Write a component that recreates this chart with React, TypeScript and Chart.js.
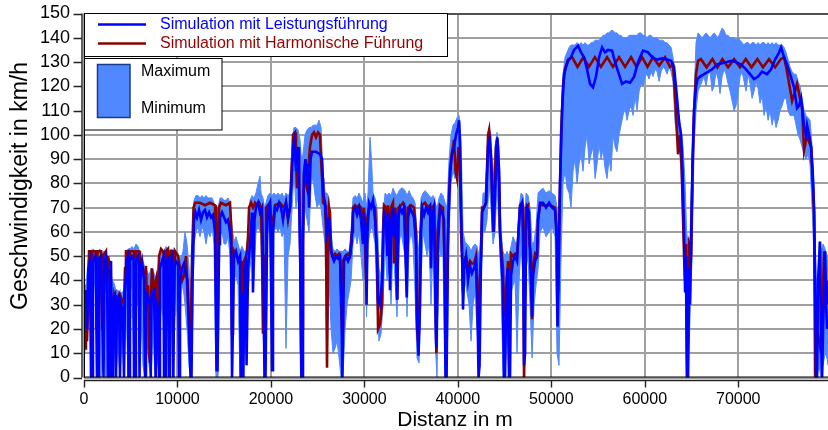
import React, { useEffect, useRef } from "react";
import { Chart, registerables } from "chart.js";

Chart.register(...registerables);

// distance in m, speed in km/h
const leistung: [number, number][] = [
  [0,28],[160,36],[320,20],[480,45],[640,48],[750,0],[860,0],[960,48],[1180,50],[1280,47],[1390,0],[1500,0],
  [1600,49],[1820,50],[1930,30],[2090,0],[2190,48],[2350,50],[2460,46],[2570,0],[2680,0],[2780,45],[2890,48],
  [3000,0],[3100,32],[3320,34],[3420,0],[3530,30],[3750,33],[3850,0],[3960,30],[4170,28],[4280,0],[4390,35],
  [4550,48],[4710,50],[4760,0],[4870,0],[4920,48],[5140,50],[5300,49],[5350,0],[5460,0],[5560,48],[5780,50],
  [5890,46],[5940,0],[6050,45],[6210,48],[6420,40],[6530,0],[6630,35],[6850,33],[7060,30],[7140,0],[7240,35],
  [7490,36],[7670,0],[7780,30],[7920,28],[8030,0],[8130,45],[8350,48],[8510,50],[8560,0],[8670,0],[8770,48],
  [8990,49],[9100,0],[9200,47],[9420,50],[9560,0],[9660,45],[9840,48],[10060,47],[10170,0],[10270,40],
  [10490,45],[10700,47],[10910,43],[11070,40],[11240,20],[11400,0],[11500,0],[11610,40],[11770,65],[11930,68],
  [12090,66],[12310,69],[12520,65],[12730,68],[12950,69],[13160,66],[13380,68],[13590,66],[13800,67],[14020,60],
  [14180,3],[14280,3],[14450,55],[14550,66],[14770,68],[14980,66],[15190,64],[15410,65],[15620,60],[15730,55],
  [15840,0],[15940,0],[16050,50],[16260,52],[16480,48],[16690,50],[16770,0],[16850,35],[17050,0],[17170,45],
  [17330,48],[17390,5],[17550,45],[17760,55],[17980,68],[18080,35],[18240,65],[18400,70],[18620,72],[18830,68],
  [19050,70],[19210,40],[19310,0],[19420,0],[19580,60],[19690,70],[19900,72],[20010,40],[20120,3],[20220,60],
  [20440,70],[20650,69],[20870,72],[21080,70],[21290,65],[21400,68],[21610,72],[21830,66],[22040,70],[22200,80],
  [22360,95],[22520,98],[22680,85],[22790,92],[22900,95],[23000,80],[23170,40],[23250,0],[23330,0],[23430,60],
  [23540,85],[23700,90],[23860,80],[23970,88],[24080,70],[24240,90],[24400,93],[24820,93],[25250,92],[25470,90],
  [25630,75],[25790,72],[26000,60],[26220,66],[26380,55],[26540,50],[26750,48],[26960,50],[27180,49],[27390,50],
  [27550,30],[27640,0],[27710,0],[27820,48],[28030,50],[28250,48],[28460,50],[28620,55],[28780,68],[29000,70],
  [29210,67],[29430,70],[29640,65],[29850,55],[29960,68],[30120,60],[30230,30],[30330,60],[30500,72],[30710,70],
  [30920,73],[31140,65],[31350,50],[31460,32],[31670,30],[31890,40],[32100,68],[32310,66],[32450,50],[32580,68],
  [32740,36],[32900,65],[33060,70],[33170,58],[33330,68],[33520,32],[33650,66],[33810,70],[34030,68],[34240,70],
  [34530,33],[34670,66],[34880,70],[35100,68],[35310,66],[35520,55],[35630,25],[35790,9],[35950,30],[36060,60],
  [36170,70],[36380,67],[36590,70],[36810,68],[37020,70],[37130,45],[37240,66],[37450,70],[37610,30],[37700,12],
  [37770,30],[37880,55],[38090,70],[38310,68],[38520,65],[38680,0],[38790,0],[38950,60],[39160,85],[39380,92],
  [39590,95],[39800,100],[40020,103],[40130,106],[40230,95],[40340,70],[40450,52],[40550,28],[40660,45],
  [40870,50],[41090,40],[41300,46],[41510,43],[41730,45],[41940,48],[42100,30],[42210,0],[42320,5],[42480,50],
  [42590,68],[42800,70],[43010,72],[43230,95],[43390,98],[43550,90],[43820,60],[44080,85],[44220,99],[44410,85],
  [44510,60],[44620,50],[44780,40],[44940,0],[45050,0],[45150,30],[45310,45],[45470,0],[45580,0],[45690,42],
  [45900,48],[46120,50],[46330,48],[46490,60],[46650,70],[46870,72],[46970,60],[47080,5],[47190,10],[47290,60],
  [47400,70],[47620,68],[47720,50],[47940,25],[48040,42],[48260,48],[48470,50],[48580,65],[48790,72],[49110,72],
  [49430,70],[49760,72],[50080,70],[50400,69],[50560,60],[50660,21],[50770,40],[50930,80],[51150,110],
  [51360,125],[51570,128],[51790,130.5],[52110,132],[52430,135],[52860,136.7],[53180,134],[53500,132],
  [53820,127],[54140,121],[54460,119.6],[54780,124],[55110,132],[55430,136],[55750,134],[56070,135],
  [56500,134.7],[56820,130],[57140,126],[57570,121],[57990,122],[58420,121.5],[58850,124],[59280,130],
  [59810,134.7],[60350,134],[60780,132],[61310,131],[61850,131.5],[62380,131],[62810,130.5],[63130,128],
  [63450,115],[63670,105],[63880,100],[64040,85],[64200,60],[64310,35],[64410,50],[64520,0],[64630,0],
  [64740,45],[64840,30],[64950,55],[65110,90],[65270,110],[65480,120],[65650,123],[65910,124],[66340,125],
  [66770,126],[67200,127],[67730,129],[68270,129.5],[68800,130],[69230,130.5],[69760,130],[70300,129],
  [70830,127],[71260,125],[71690,123],[72120,124],[72550,126],[73080,125],[73510,127],[73940,131],[74370,134],
  [74580,136],[74900,132],[75220,129],[75540,125],[75970,119.6],[76290,111],[76510,112],[76720,115],[76930,108],
  [77040,103],[77250,100],[77360,104],[77580,100],[77790,95],[77950,85],[78110,70],[78220,40],[78320,0],
  [78430,0],[78540,40],[78750,56],[78860,15],[78970,0],[79070,20],[79290,52],[79390,30],[79500,20],[79600,25],
];

const harmonisch: [number, number][] = [
  [0,30],[110,12],[210,32],[320,15],[430,30],[540,52],[750,52],[800,10],[910,52],[1280,52],[1340,20],[1440,52],
  [1820,52],[1930,20],[2030,50],[2350,52],[2460,35],[2570,50],[2780,45],[2890,33],[3100,30],[3210,34],[3420,30],
  [3640,33],[3850,28],[3960,33],[4280,30],[4390,45],[4490,52],[4710,52],[4820,25],[4920,52],[5350,52],[5460,30],
  [5560,52],[5890,52],[5990,40],[6100,47],[6310,45],[6530,38],[6630,46],[6740,30],[6850,38],[6960,10],[7060,6],
  [7170,35],[7280,45],[7490,36],[7700,40],[7810,15],[7920,35],[8030,50],[8240,53],[8460,52],[8670,48],[8770,52],
  [8990,53],[9200,40],[9310,52],[9520,52],[9630,30],[9740,52],[10060,50],[10270,45],[10490,40],[10700,42],
  [10910,50],[11130,30],[11240,20],[11340,10],[11450,25],[11560,50],[11720,70],[11880,72],[12410,72],[12950,71],
  [13480,72],[14020,71],[14120,40],[14230,12],[14340,55],[14450,70],[14660,72],[15190,71],[15620,72],[15780,60],
  [15840,18],[15940,48],[16050,52],[16260,50],[16480,49],[16690,50],[16800,30],[16910,48],[17010,25],[17120,48],
  [17330,50],[17440,52],[17550,58],[17660,70],[17870,72],[18080,70],[18300,72],[18510,71],[18730,72],[18940,70],
  [19050,50],[19150,18],[19260,30],[19370,50],[19470,70],[19900,72],[20120,60],[20440,71],[20970,72],[21400,70],
  [21610,72],[21830,65],[22040,70],[22260,90],[22360,100],[22580,101],[22680,90],[22790,78],[22900,92],
  [23000,85],[23110,60],[23220,10],[23330,20],[23430,60],[23540,82],[23750,80],[23860,78],[23970,85],[24180,95],
  [24400,100],[24610,101],[24820,99],[25040,101],[25250,100],[25360,90],[25470,82],[25570,72],[25790,71],
  [25890,60],[26000,4],[26110,50],[26220,70],[26320,68],[26430,52],[26640,50],[26860,51],[27070,50],[27290,51],
  [27390,50],[27500,30],[27610,20],[27710,48],[27930,50],[28250,51],[28460,50],[28680,60],[28780,70],[29000,71],
  [29210,70],[29430,71],[29640,70],[29850,60],[29960,70],[30170,40],[30280,65],[30500,70],[30820,71],[31140,70],
  [31350,50],[31460,20],[31670,22],[31890,30],[31990,60],[32100,71],[32310,70],[32420,55],[32530,71],[32740,45],
  [32850,70],[33060,72],[33170,47],[33330,70],[33490,32],[33650,70],[33920,71],[34130,72],[34350,70],[34510,40],
  [34670,70],[34990,71],[35310,70],[35520,60],[35630,20],[35740,15],[35850,20],[36010,60],[36170,71],[36490,72],
  [36810,70],[37020,71],[37130,55],[37240,70],[37450,71],[37610,35],[37700,10],[37830,60],[38090,71],[38410,70],
  [38630,40],[38730,10],[38890,50],[39060,75],[39270,90],[39590,98],[39750,85],[39910,82],[40070,95],[40230,90],
  [40340,60],[40450,50],[40550,35],[40660,48],[40870,50],[41090,45],[41300,48],[41510,47],[41730,47],[41940,50],
  [42160,20],[42320,40],[42480,50],[42590,70],[42800,70],[43010,72],[43230,100],[43340,102],[43440,96],
  [43550,90],[43760,60],[43870,75],[44080,95],[44190,98],[44410,80],[44510,60],[44670,52],[44830,45],[44940,30],
  [45050,25],[45150,35],[45370,48],[45470,20],[45580,40],[45690,51],[45900,50],[46120,51],[46330,50],[46490,60],
  [46650,71],[46870,72],[46970,71],[47080,0],[47190,40],[47290,70],[47510,71],[47670,55],[47830,50],[47940,24],
  [48040,45],[48260,51],[48470,50],[48580,65],[48790,71],[49330,71],[49860,71],[50400,70],[50610,55],[50720,35],
  [50820,60],[51040,100],[51250,120],[51470,127],[51790,131],[52220,132],[52800,128],[53430,132],[54020,128],
  [54660,132],[55300,128],[55960,132],[56600,128],[57250,132],[57890,128],[58530,132],[59110,128],[59710,132],
  [60290,128],[60880,132],[61530,128.5],[62170,132],[62700,128],[63020,129],[63240,115.5],[63560,92],
  [63770,100],[63880,93],[63990,80],[64200,50],[64310,40],[64410,55],[64520,0],[64630,20],[64740,55],[64950,52],
  [65110,85],[65270,110],[65480,125],[65700,130.5],[65990,131.2],[66610,127.8],[67230,131.2],[67770,127.8],
  [68300,131.2],[68910,127.8],[69550,131.2],[70190,127.8],[70800,131.2],[71420,127.8],[72040,131.2],
  [72650,127.8],[73290,131.2],[73940,127.8],[74550,131.2],[74900,132],[75220,126],[75760,114],[76080,118],
  [76290,121],[76610,115],[76830,111],[77040,93.6],[77360,100],[77580,97],[77790,95],[78110,67.5],[78220,0],
  [78430,19.6],[78640,15],[78860,10],[79180,52],[79390,35],[79500,30],[79600,40],
];

// distance, maximum, minimum
const band: [number, number, number][] = [
  [0,38,10],[210,38,12],[430,48,20],[640,52,30],[800,50,0],[960,53,35],[1180,52,40],[1340,50,0],[1500,52,30],
  [1710,53,38],[1820,50,0],[2030,52,20],[2250,52,35],[2350,48,0],[2570,50,15],[2780,48,25],[3000,40,0],
  [3210,39,20],[3420,36,0],[3640,36,15],[3850,35,0],[4070,35,18],[4280,36,0],[4490,52,30],[4710,53,0],
  [4920,53,35],[5140,54,38],[5350,53,0],[5560,55,35],[5780,54,30],[5940,52,0],[6100,50,25],[6310,48,5],
  [6530,45,0],[6740,44,15],[6960,42,5],[7170,45,0],[7380,44,20],[7600,42,0],[7810,40,10],[8030,50,0],
  [8240,53,30],[8460,52,25],[8610,52,0],[8770,54,20],[8990,53,35],[9150,52,0],[9310,53,30],[9520,52,0],
  [9740,52,25],[9950,52,30],[10170,50,0],[10380,49,35],[10590,52,38],[10810,60,30],[11020,55,20],[11240,45,5],
  [11400,30,0],[11560,50,10],[11770,73,55],[11980,75,60],[12200,75,62],[12410,74,58],[12630,75,62],[12840,74,60],
  [13050,75,55],[13270,74,60],[13480,74,58],[13700,74,62],[13910,72,55],[14120,70,0],[14340,70,0],[14550,74,58],
  [14770,74,60],[14980,73,55],[15190,73,55],[15410,74,58],[15620,72,50],[15840,62,0],[16050,56,40],[16260,58,42],
  [16480,55,38],[16690,52,0],[16910,54,0],[17120,52,30],[17330,52,10],[17550,60,35],[17760,73,45],[17980,75,55],
  [18190,74,40],[18400,76,60],[18620,80,62],[18830,83,60],[18940,76,60],[19150,74,20],[19310,70,0],[19470,72,5],
  [19690,75,60],[19900,76,62],[20120,75,5],[20330,76,60],[20540,75,62],[20760,76,60],[20970,75,62],[21190,76,58],
  [21400,74,60],[21610,76,12],[21830,75,50],[22040,76,55],[22260,98,70],[22470,103,85],[22680,103,70],
  [22900,102,75],[23110,98,45],[23270,90,0],[23430,92,50],[23650,100,70],[23860,102,65],[24080,103,60],
  [24290,103,80],[24500,104,82],[24720,104,75],[24930,104,70],[25150,106,72],[25360,103,70],[25570,85,62],
  [25790,76,55],[26000,76,5],[26220,74,40],[26430,60,20],[26640,53,10],[26860,52,12],[27070,53,15],[27290,52,8],
  [27500,52,0],[27710,52,0],[27930,53,20],[28140,52,30],[28360,52,35],[28570,60,40],[28780,74,55],[29000,75,60],
  [29210,74,55],[29430,76,60],[29640,74,50],[29850,72,40],[30070,76,50],[30230,70,25],[30390,76,55],[30600,99,60],
  [30760,90,62],[30920,76,60],[31140,74,55],[31350,70,30],[31560,45,15],[31780,42,18],[31990,66,30],[32210,76,55],
  [32420,75,40],[32640,76,45],[32850,75,30],[33060,78,55],[33280,76,40],[33490,75,25],[33710,77,55],[33920,78,60],
  [34130,78,55],[34350,77,50],[34560,75,25],[34780,77,55],[34990,75,60],[35200,74,55],[35420,72,35],[35630,60,8],
  [35850,50,6],[36060,74,40],[36270,76,60],[36490,77,55],[36700,76,50],[36920,75,55],[37130,74,30],[37340,75,55],
  [37560,72,15],[37770,70,0],[37990,74,55],[38200,76,50],[38410,75,50],[38630,72,0],[38840,70,0],[39060,90,60],
  [39270,100,80],[39480,104,85],[39700,105,82],[39910,107,85],[40130,108,90],[40340,98,55],[40550,60,28],
  [40770,56,40],[40980,55,35],[41200,54,30],[41410,52,15],[41620,54,30],[41840,55,35],[42050,54,20],[42270,50,0],
  [42480,60,40],[42690,76,60],[42910,76,60],[43120,90,65],[43340,103,80],[43550,100,70],[43760,80,55],
  [43980,95,60],[44190,101,80],[44410,95,60],[44620,60,40],[44830,52,0],[45050,50,0],[45260,52,20],[45470,50,0],
  [45690,54,35],[45900,58,38],[46120,56,40],[46330,55,10],[46550,70,40],[46760,76,55],[46970,75,40],[47140,60,0],
  [47290,76,45],[47510,75,50],[47720,70,30],[47940,55,8],[48150,56,30],[48360,62,38],[48580,76,45],[48790,77,60],
  [49110,78,62],[49430,76,58],[49760,77,60],[50080,76,62],[50400,75,58],[50610,70,10],[50820,60,5],
  [51040,100,50],[51250,125,80],[51470,132,85],[51680,134,78],[51900,136,76],[52110,137,70],[52320,137,85],
  [52540,137,90],[52750,138,80],[52970,137,88],[53180,138,92],[53390,137,85],[53610,138,95],[53820,137,100],
  [54040,137,88],[54250,138,92],[54460,138,95],[54680,139,82],[54890,139,88],[55110,139,96],[55320,140,90],
  [55530,141,94],[55750,141,86],[55960,142,82],[56180,142,90],[56390,143,85],[56600,143,100],[56820,142,95],
  [57030,142,93],[57250,141,100],[57460,141,104],[57670,140,108],[57890,140,111],[58100,140,106],[58320,141,110],
  [58530,141,112],[58740,141,108],[58960,141,116],[59170,141,110],[59390,142,118],[59600,142,121],[59810,141,120],
  [60030,141,124],[60240,140,125],[60460,141,123],[60670,141,126],[60880,140,124],[61100,140,127],[61310,140,126],
  [61530,139,122],[61740,139,126],[61950,139,128],[62170,138,127],[62380,138,125],[62600,137,128],[62810,136,126],
  [63020,132,122],[63240,120,105],[63450,110,100],[63670,108,95],[63880,102,85],[64090,95,60],[64310,80,40],
  [64470,60,0],[64630,55,0],[64840,58,25],[65060,90,50],[65270,115,95],[65480,138,110],[65700,142,118],
  [65910,141,120],[66130,140,122],[66340,141,124],[66550,142,120],[66770,141,125],[66980,140,126],[67200,141,118],
  [67410,142,120],[67620,141,126],[67840,140,123],[68050,142,117],[68270,144,124],[68480,143,127],[68690,141,125],
  [68910,141,121],[69120,140,118],[69340,140,114],[69550,140,110],[69760,139,112],[69980,140,117],[70190,139,124],
  [70410,138,126],[70620,137,122],[70830,138,118],[71050,138,125],[71260,137,121],[71480,138,115],[71690,138,118],
  [71900,137,122],[72120,138,119],[72330,137,113],[72550,138,116],[72760,138,108],[72970,137,112],[73190,138,106],
  [73400,137,110],[73620,138,104],[73830,137,108],[74040,138,103],[74260,137,106],[74470,137,110],[74690,137,112],
  [74900,136,115],[75110,134,115],[75330,131,110],[75540,128,108],[75760,126,108],[75970,125,108],[76180,125,104],
  [76400,122,100],[76610,120,98],[76830,115,95],[77040,110,92],[77250,108,90],[77470,107,92],[77680,106,88],
  [77900,95,70],[78110,80,50],[78270,50,0],[78430,30,0],[78640,56,5],[78860,52,0],[79070,55,5],[79290,53,10],
  [79500,50,8],[79600,45,5],
];

const xTicks = [0, 10000, 20000, 30000, 40000, 50000, 60000, 70000];
const yTicks = [0, 10, 20, 30, 40, 50, 60, 70, 80, 90, 100, 110, 120, 130, 140, 150];

const xTitle = "Distanz in m";
const yTitle = "Geschwindigkeit in km/h";
const lineLabels = ["Simulation mit Leistungsführung", "Simulation mit Harmonische Führung"];
const bandLabels = ["Maximum", "Minimum"];

const FONT = "'Liberation Sans', Arial, sans-serif";
const BLUE = "#0000ff";
const RED = "#8b0000";
const BAND = "#5089ff";
const GRID = "rgb(160,160,160)";

const overlay = {
  id: "overlay",
  afterDraw(chart: any) {
    const ctx = chart.ctx as CanvasRenderingContext2D;
    const a = chart.chartArea;
    const xs = chart.scales.x;
    const ys = chart.scales.y;
    ctx.save();
    // plot frame
    ctx.strokeStyle = "#000";
    ctx.lineWidth = 1;
    ctx.beginPath();
    ctx.moveTo(a.left + 0.5, a.bottom);
    ctx.lineTo(a.left + 0.5, a.top + 0.5);
    ctx.lineTo(a.right, a.top + 0.5);
    ctx.moveTo(a.left, a.bottom - 0.5);
    ctx.lineTo(a.right, a.bottom - 0.5);
    ctx.stroke();
    // offset y axis
    ctx.strokeStyle = "#222";
    ctx.lineWidth = 1.4;
    const yx = a.left - 2;
    ctx.beginPath();
    ctx.moveTo(yx, a.top);
    ctx.lineTo(yx, a.bottom);
    for (const v of yTicks) {
      const py = Math.round(ys.getPixelForValue(v)) + 0.5;
      ctx.moveTo(yx - 8.5, py);
      ctx.lineTo(yx, py);
    }
    // offset x axis
    const xy = a.bottom + 3;
    ctx.moveTo(a.left, xy);
    ctx.lineTo(a.right, xy);
    for (const v of xTicks) {
      const px = Math.round(xs.getPixelForValue(v)) + 0.5;
      ctx.moveTo(px, xy);
      ctx.lineTo(px, xy + 7);
    }
    ctx.stroke();

    // axis titles
    ctx.fillStyle = "#000";
    ctx.textAlign = "center";
    ctx.textBaseline = "alphabetic";
    ctx.font = `21px ${FONT}`;
    ctx.fillText(xTitle, 455, 426);
    ctx.save();
    ctx.translate(27, 186);
    ctx.rotate(-Math.PI / 2);
    ctx.font = `23px ${FONT}`;
    ctx.fillText(yTitle, 0, 0);
    ctx.restore();

    // legend 1
    ctx.fillStyle = "#fff";
    ctx.fillRect(84, 13, 363, 43);
    ctx.strokeStyle = "#000";
    ctx.lineWidth = 1;
    ctx.strokeRect(84.5, 13.5, 363, 43);
    ctx.lineWidth = 2.5;
    ctx.strokeStyle = BLUE;
    ctx.beginPath();
    ctx.moveTo(98, 24.5);
    ctx.lineTo(146, 24.5);
    ctx.stroke();
    ctx.strokeStyle = RED;
    ctx.beginPath();
    ctx.moveTo(98, 43.5);
    ctx.lineTo(146, 43.5);
    ctx.stroke();
    ctx.font = `16px ${FONT}`;
    ctx.textAlign = "left";
    ctx.textBaseline = "middle";
    ctx.fillStyle = BLUE;
    ctx.fillText(lineLabels[0], 160, 25);
    ctx.fillStyle = "#990000";
    ctx.fillText(lineLabels[1], 160, 44);

    // legend 2
    ctx.fillStyle = "#fff";
    ctx.fillRect(84, 58, 138, 72);
    ctx.strokeStyle = "#000";
    ctx.lineWidth = 1;
    ctx.strokeRect(84.5, 58.5, 137.5, 71.5);
    ctx.fillStyle = BAND;
    ctx.fillRect(97.5, 64.5, 32.5, 53);
    ctx.strokeStyle = "#1c3a8a";
    ctx.lineWidth = 1.5;
    ctx.strokeRect(97.5, 64.5, 32.5, 53);
    ctx.fillStyle = "#000";
    ctx.fillText(bandLabels[0], 141, 71.5);
    ctx.fillText(bandLabels[1], 141, 109);
    ctx.restore();
  },
};

export default function App() {
  const ref = useRef<HTMLCanvasElement>(null);
  useEffect(() => {
    if (!ref.current) return;
    const chart = new Chart(ref.current, {
      type: "line",
      data: {
        datasets: [
          {
            label: lineLabels[0],
            data: leistung.map(([x, y]) => ({ x, y })),
            borderColor: BLUE,
            borderWidth: 2.6,
            pointRadius: 0,
            fill: false,
            order: 0,
          },
          {
            label: lineLabels[1],
            data: harmonisch.map(([x, y]) => ({ x, y })),
            borderColor: RED,
            borderWidth: 2.6,
            pointRadius: 0,
            fill: false,
            order: 1,
          },
          {
            label: bandLabels[0],
            data: band.map(([x, mx]) => ({ x, y: mx })),
            borderColor: BAND,
            backgroundColor: BAND,
            borderWidth: 1,
            pointRadius: 0,
            fill: "+1",
            order: 2,
          },
          {
            label: bandLabels[1],
            data: band.map(([x, , mn]) => ({ x, y: mn })),
            borderColor: BAND,
            backgroundColor: BAND,
            borderWidth: 1,
            pointRadius: 0,
            fill: false,
            order: 3,
          },
        ],
      },
      options: {
        animation: false,
        responsive: false,
        maintainAspectRatio: false,
        layout: { padding: { top: 13.5, left: 0, right: 0, bottom: 0 } },
        plugins: { legend: { display: false }, tooltip: { enabled: false } },
        scales: {
          x: {
            type: "linear",
            min: 0,
            max: 79600,
            afterFit: (s: any) => {
              s.height = 52.5;
              s.paddingLeft = 0;
              s.paddingRight = 0;
            },
            afterBuildTicks: (s: any) => {
              s.ticks = xTicks.map((value) => ({ value }));
            },
            ticks: {
              font: { family: FONT, size: 16 },
              color: "#000",
              padding: 12,
              maxRotation: 0,
              autoSkip: false,
              callback: (v: any) => String(v),
            },
            grid: { color: GRID, lineWidth: 2, drawTicks: false },
            border: { display: false },
          },
          y: {
            min: 0,
            max: 150,
            afterFit: (s: any) => {
              s.width = 84;
              s.paddingTop = 0;
              s.paddingBottom = 0;
            },
            afterBuildTicks: (s: any) => {
              s.ticks = yTicks.map((value) => ({ value }));
            },
            ticks: {
              font: { family: FONT, size: 18 },
              color: "#000",
              padding: 14,
              autoSkip: false,
              callback: (v: any) => String(v),
            },
            grid: { color: GRID, lineWidth: 2, drawTicks: false },
            border: { display: false },
          },
        },
      },
      plugins: [overlay],
    });
    return () => chart.destroy();
  }, []);
  return (
    <div style={{ position: "fixed", left: 0, top: 0, width: 828, height: 430, background: "#fff" }}>
      <canvas ref={ref} width={828} height={430} style={{ display: "block" }} />
    </div>
  );
}
